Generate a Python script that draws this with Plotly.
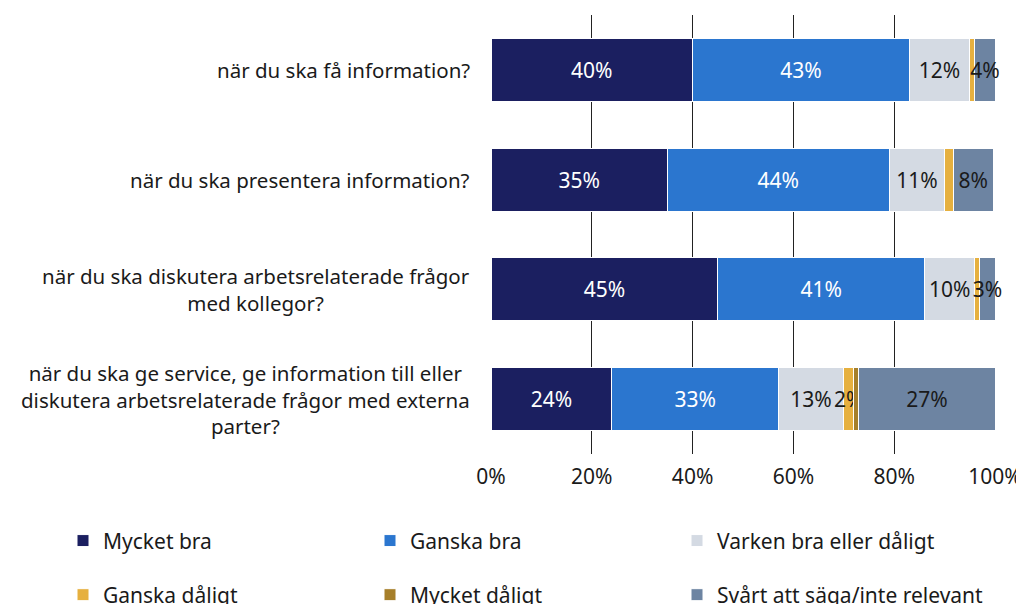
import plotly.graph_objects as go

categories = [
    "när du ska få information?",
    "när du ska presentera information?",
    "när du ska diskutera arbetsrelaterade frågor<br>med kollegor?",
    "när du ska ge service, ge information till eller<br>diskutera arbetsrelaterade frågor med externa<br>parter?",
]
series_names = [
    "Mycket bra",
    "Ganska bra",
    "Varken bra eller dåligt",
    "Ganska dåligt",
    "Mycket dåligt",
    "Svårt att säga/inte relevant",
]
mycket_bra = [40, 35, 45, 24]
ganska_bra = [43, 44, 41, 33]
varken = [12, 11, 10, 13]
ganska_daligt = [1, 1.7, 1, 2]
mycket_daligt = [0, 0, 0, 1]
svart = [4, 8, 3, 27]
series_values = [mycket_bra, ganska_bra, varken, ganska_daligt, mycket_daligt, svart]
colors = ["#1b1f60", "#2b76cf", "#d4dae3", "#e6b03f", "#a67f2a", "#6d84a2"]
text_colors = ["#ffffff", "#ffffff", "#1a1a1a", "#1a1a1a", "#1a1a1a", "#1a1a1a"]
tick_vals = [0, 20, 40, 60, 80, 100]
tick_text = ["0%", "20%", "40%", "60%", "80%", "100%"]

FONT = "Noto Sans"
keys = list(range(len(categories)))

fig = go.Figure()
for i, (name, vals) in enumerate(zip(series_names, series_values)):
    texts = [f"{round(v)}%" if v >= 2 else "" for v in vals]
    fig.add_trace(go.Bar(
        y=keys, x=vals, name=name, orientation="h",
        marker=dict(color=colors[i], line=dict(color="#ffffff", width=1)),
        text=texts, textposition="inside", insidetextanchor="middle",
        textangle=0, constraintext="none", cliponaxis=False,
        textfont=dict(family=FONT, size=21, color=text_colors[i]),
        legend="legend" if i < 3 else "legend2",
        hoverinfo="x+name",
    ))

for k, cat in zip(keys, categories):
    fig.add_annotation(
        x=0, xref="paper", y=k, yref="y", text=cat, showarrow=False,
        xanchor="right", yanchor="middle", align="center", xshift=-19,
        font=dict(family=FONT, size=20.5, color="#1a1a1a"),
    )

legend_common = dict(
    orientation="h", xref="paper", yref="paper",
    x=-0.8492, xanchor="left", yanchor="middle",
    entrywidth=262, entrywidthmode="pixels", itemclick=False, itemdoubleclick=False,
    font=dict(family=FONT, size=21, color="#1a1a1a"),
    bgcolor="rgba(0,0,0,0)", traceorder="normal",
)

fig.update_layout(
    width=1016, height=596,
    margin=dict(l=483, r=29, t=7, b=150, autoexpand=False),
    barmode="stack", bargap=0.427,
    plot_bgcolor="#ffffff", paper_bgcolor="#ffffff",
    font=dict(family=FONT, size=18, color="#1a1a1a"),
    xaxis=dict(range=[0, 100], tickvals=tick_vals, ticktext=tick_text,
               showgrid=True, gridcolor="#222222", gridwidth=1.3,
               zeroline=False, showline=False, ticks="", ticklabelstandoff=8,
               tickfont=dict(family=FONT, size=21, color="#1a1a1a")),
    yaxis=dict(autorange="reversed", showticklabels=False, showgrid=False,
               zeroline=False, showline=False),
    legend=dict(**legend_common, y=-0.198),
    legend2=dict(**legend_common, y=-0.3212),
    showlegend=True,
)

fig.write_html("out.html")
